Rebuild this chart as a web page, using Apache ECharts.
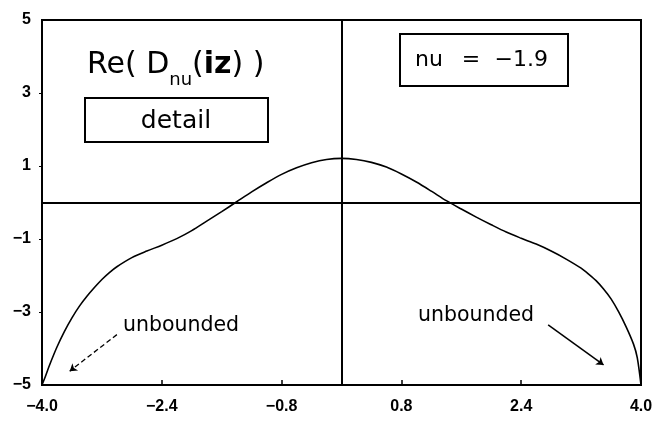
<!DOCTYPE html>
<html>
<head>
<meta charset="utf-8">
<script src="https://cdn.jsdelivr.net/npm/echarts@6/dist/echarts.min.js"></script>
<style>
  html, body { margin: 0; padding: 0; background: #fff; }
  #chart { width: 660px; height: 421px; }
</style>
</head>
<body>
<div id="chart"></div>
<script>
// Re(D_nu(iz)) for nu = -1.9, sampled along z
const zValues = [-4.0, -3.95, -3.9, -3.8, -3.7, -3.6, -3.5, -3.4, -3.3, -3.2, -3.1, -3.0,
  -2.8, -2.6, -2.4, -2.2, -2.0, -1.8, -1.6, -1.4, -1.2, -1.0, -0.8, -0.6, -0.4, -0.2, 0,
  0.2, 0.4, 0.6, 0.8, 1.0, 1.2, 1.4, 1.6, 1.8, 2.0, 2.2, 2.4, 2.6, 2.8, 3.0, 3.2, 3.3, 3.4,
  3.5, 3.6, 3.7, 3.8, 3.9, 3.95, 4.0];
const reValues = [-5.0, -4.74, -4.46, -3.96, -3.53, -3.16, -2.84, -2.57, -2.33, -2.11, -1.92, -1.76,
  -1.51, -1.33, -1.17, -0.99, -0.77, -0.51, -0.25, 0.02, 0.29, 0.54, 0.77, 0.95, 1.09, 1.18, 1.21,
  1.18, 1.10, 0.97, 0.78, 0.56, 0.31, 0.05, -0.18, -0.40, -0.61, -0.81, -0.98, -1.14, -1.33, -1.55,
  -1.80, -1.96, -2.14, -2.37, -2.64, -2.99, -3.40, -3.88, -4.25, -5.0];

const xTickLabels = [-4.0, -2.4, -0.8, 0.8, 2.4, 4.0];
const xInnerTicks = [-2.4, -0.8, 0.8, 2.4];
const yTickLabels = [-5, -3, -1, 1, 3, 5];
const yInnerTicks = [-3, -1, 1, 3];

// annotation arrows pointing at the unbounded ends (data coordinates)
const leftArrow = [[-3.0, -3.62], [-3.63, -4.62]];
const rightArrow = [[2.76, -3.35], [3.5, -4.45]];

const minus = '\u2212';
const fmtX = v => (v < -1e-9 ? minus : '') + Math.abs(v).toFixed(1);
const fmtY = v => (v < 0 ? minus : '') + Math.abs(v);

const labelFont = { color: '#000', fontFamily: 'Liberation Sans', fontWeight: 'bold', fontSize: 16 };
const noteFont = 'DejaVu Sans';

const chart = echarts.init(document.getElementById('chart'), null, { renderer: 'canvas' });

chart.setOption({
  animation: false,
  backgroundColor: '#fff',
  grid: {
    left: 42, right: 19, top: 20, bottom: 36,
    show: true, borderColor: '#000', borderWidth: 2, backgroundColor: 'transparent'
  },
  xAxis: {
    type: 'value', min: -4, max: 4,
    axisLine: { show: true, onZero: false, lineStyle: { color: '#000', width: 2 } },
    axisTick: { show: true, inside: true, length: 5, customValues: xInnerTicks, lineStyle: { color: '#000', width: 1.5 } },
    axisLabel: Object.assign({ margin: 14, customValues: xTickLabels, formatter: fmtX }, labelFont),
    splitLine: { show: false }
  },
  yAxis: {
    type: 'value', min: -5, max: 5,
    axisLine: { show: true, onZero: false, lineStyle: { color: '#000', width: 2 } },
    axisTick: { show: true, inside: false, length: 3, customValues: yInnerTicks, lineStyle: { color: '#000', width: 1 } },
    axisLabel: Object.assign({ margin: 11, customValues: yTickLabels, formatter: fmtY }, labelFont),
    splitLine: { show: false }
  },
  series: [
    {
      type: 'line',
      data: zValues.map((z, i) => [z, reValues[i]]),
      showSymbol: false,
      smooth: 0.3,
      lineStyle: { color: '#000', width: 1.6 },
      markLine: {
        silent: true,
        symbol: 'none',
        label: { show: false },
        lineStyle: { color: '#000', width: 2, type: 'solid' },
        data: [{ xAxis: 0 }, { yAxis: 0 }]
      }
    },
    {
      type: 'line',
      data: [],
      markLine: {
        silent: true,
        symbol: ['none', 'arrow'],
        symbolSize: 7,
        label: { show: false },
        data: [
          [{ coord: leftArrow[0], lineStyle: { color: '#000', width: 1.3, type: [5, 3] } }, { coord: leftArrow[1] }],
          [{ coord: rightArrow[0], lineStyle: { color: '#000', width: 1.5, type: 'solid' } }, { coord: rightArrow[1] }]
        ]
      }
    }
  ],
  graphic: [
    {
      type: 'text', left: 87, top: 50,
      style: {
        text: '{a|Re( D}{b|nu}{a|(}{c|iz}{a|) )}',
        rich: {
          a: { fontFamily: noteFont, fontSize: 30, lineHeight: 36, fill: '#000', verticalAlign: 'bottom' },
          b: { fontFamily: noteFont, fontSize: 18, lineHeight: 18, fill: '#000', verticalAlign: 'bottom', padding: [0, 0, -9, 0] },
          c: { fontFamily: noteFont, fontSize: 30, fontWeight: 'bold', lineHeight: 36, fill: '#000', verticalAlign: 'bottom' }
        }
      }
    },
    {
      type: 'rect', shape: { x: 85, y: 98, width: 183, height: 44 },
      style: { fill: 'none', stroke: '#000', lineWidth: 2 }
    },
    {
      type: 'text', x: 176, y: 121,
      style: { text: 'detail', fontFamily: noteFont, fontSize: 25, fill: '#000', align: 'center', verticalAlign: 'middle' }
    },
    {
      type: 'rect', shape: { x: 400, y: 34, width: 168, height: 52 },
      style: { fill: 'none', stroke: '#000', lineWidth: 2 }
    },
    {
      type: 'text', x: 415, y: 60,
      style: { text: 'nu', fontFamily: noteFont, fontSize: 22, fill: '#000', align: 'left', verticalAlign: 'middle' }
    },
    {
      type: 'text', x: 471, y: 60,
      style: { text: '=', fontFamily: noteFont, fontSize: 22, fill: '#000', align: 'center', verticalAlign: 'middle' }
    },
    {
      type: 'text', x: 548, y: 60,
      style: { text: minus + '1.9', fontFamily: noteFont, fontSize: 22, fill: '#000', align: 'right', verticalAlign: 'middle' }
    },
    {
      type: 'text', x: 181, y: 326,
      style: { text: 'unbounded', fontFamily: noteFont, fontSize: 20.5, fill: '#000', align: 'center', verticalAlign: 'middle' }
    },
    {
      type: 'text', x: 476, y: 316,
      style: { text: 'unbounded', fontFamily: noteFont, fontSize: 20.5, fill: '#000', align: 'center', verticalAlign: 'middle' }
    }
  ]
});
</script>
</body>
</html>
